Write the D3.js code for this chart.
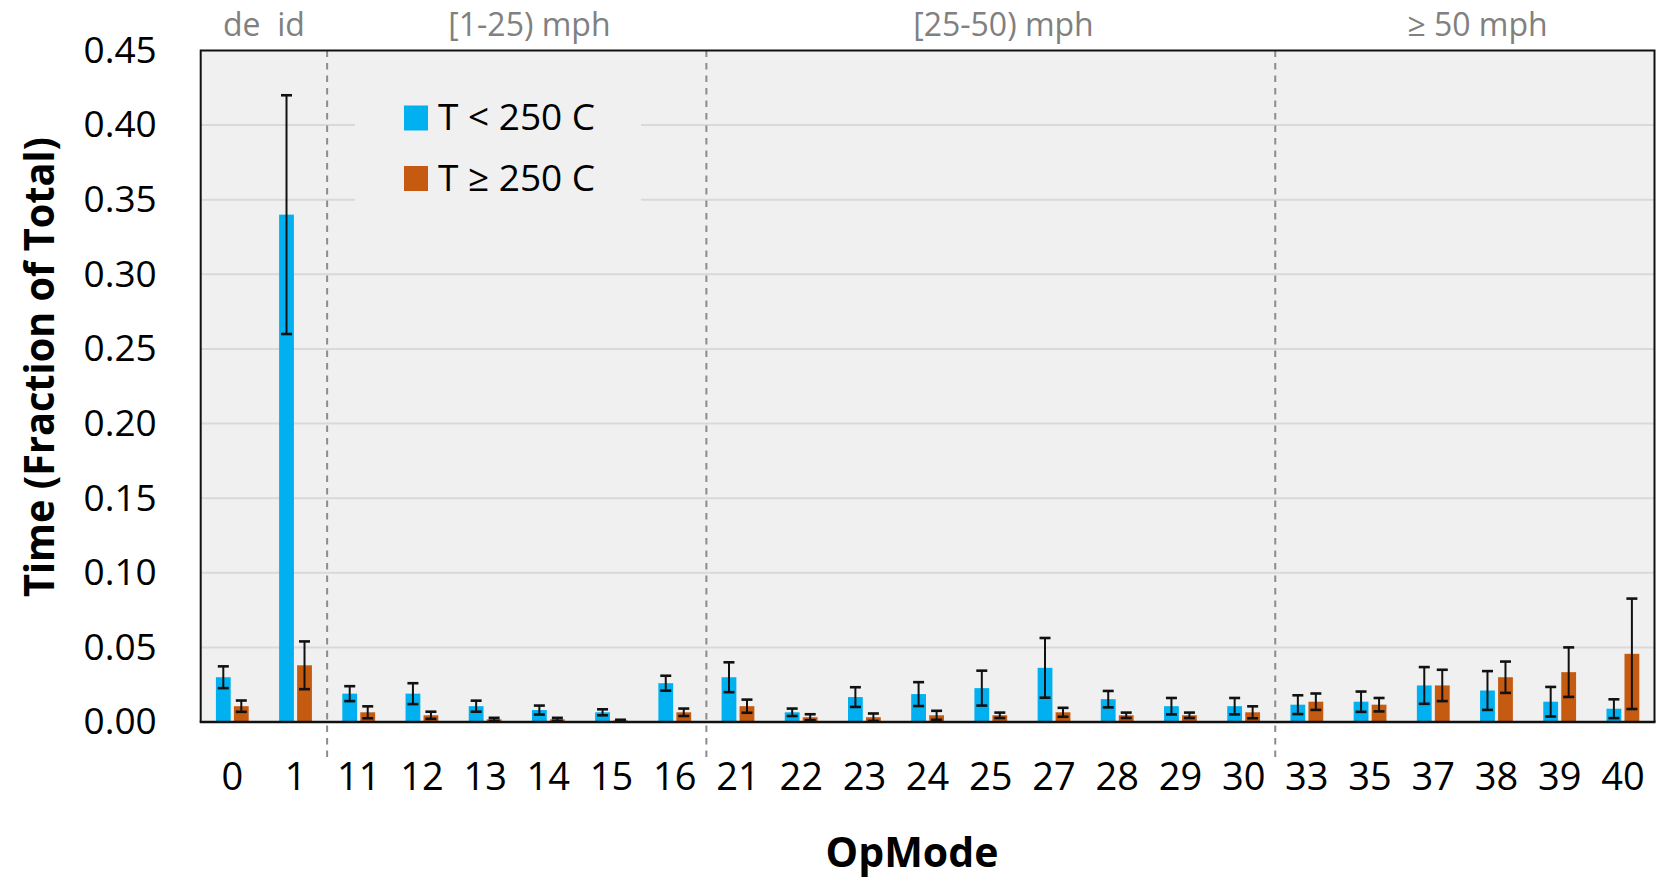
<!DOCTYPE html>
<html>
<head>
<meta charset="utf-8">
<script src="https://cdn.jsdelivr.net/npm/d3@7"></script>
<style>
  html, body { margin: 0; padding: 0; background: #ffffff; }
  svg { display: block; }
  text { font-family: "Open Sans", "Noto Sans", sans-serif; }
</style>
</head>
<body>
<svg id="chart" width="1656" height="878"></svg>
<script>
// Operating modes along the x axis
const opModes = ["0","1","11","12","13","14","15","16","21","22","23","24","25","27","28","29","30","33","35","37","38","39","40"];

// Fraction of total time, exhaust temperature below 250 C
const lowTemp    = [0.030, 0.340, 0.019, 0.019, 0.0106, 0.008, 0.0065, 0.026, 0.030, 0.0065, 0.0167, 0.0187, 0.0227, 0.0363, 0.0153, 0.0106, 0.0106, 0.0116, 0.0136, 0.0245, 0.0211, 0.0136, 0.0089];
const lowTempErr = [0.0073, 0.080, 0.005, 0.007, 0.0037, 0.003, 0.002, 0.005, 0.010, 0.0025, 0.0066, 0.008, 0.0117, 0.020, 0.0055, 0.0055, 0.0055, 0.0063, 0.0068, 0.0123, 0.013, 0.0099, 0.0063];

// Fraction of total time, exhaust temperature at or above 250 C
const highTemp    = [0.0106, 0.038, 0.0065, 0.0045, 0.0018, 0.0018, 0.001, 0.0065, 0.0106, 0.0032, 0.0032, 0.0045, 0.0045, 0.0065, 0.0045, 0.0045, 0.0065, 0.0136, 0.0116, 0.0245, 0.030, 0.0334, 0.0457];
const highTempErr = [0.0038, 0.016, 0.004, 0.0024, 0.001, 0.001, 0.0005, 0.0025, 0.0044, 0.002, 0.0025, 0.003, 0.0018, 0.003, 0.0018, 0.0018, 0.004, 0.0055, 0.0045, 0.0105, 0.0105, 0.0166, 0.037];

// Speed bins: first and last OpMode of each bin
const binLabels = ["de  id", "[1-25) mph", "[25-50) mph", "\u2265 50 mph"];
const binStart  = ["0", "11", "21", "33"];
const binEnd    = ["1", "16", "30", "40"];

const yTicks = [0, 0.05, 0.10, 0.15, 0.20, 0.25, 0.30, 0.35, 0.40, 0.45];

const seriesNames  = ["T < 250 C", "T \u2265 250 C"];
const seriesColors = ["#00b0f0", "#c55a11"];

const svg = d3.select("#chart");
const plot = { left: 200.7, right: 1654.5, top: 50.5, bottom: 722 };

const x = d3.scaleBand().domain(opModes).range([plot.left, plot.right]).padding(0);
const y = d3.scaleLinear().domain([0, 0.45]).range([plot.bottom, plot.top]);

// Plot background
svg.append("rect")
  .attr("x", plot.left).attr("y", plot.top)
  .attr("width", plot.right - plot.left).attr("height", plot.bottom - plot.top)
  .attr("fill", "#f0f0f0");

// Horizontal gridlines
svg.append("g").selectAll("line")
  .data(yTicks.filter(t => t > 0 && t < 0.45))
  .join("line")
  .attr("x1", plot.left).attr("x2", plot.right)
  .attr("y1", d => y(d)).attr("y2", d => y(d))
  .attr("stroke", "#d9d9d9").attr("stroke-width", 2);

// Legend backdrop hides the gridlines behind it
svg.append("rect")
  .attr("x", 355).attr("y", 88).attr("width", 286).attr("height", 128)
  .attr("fill", "#f0f0f0");

// Dashed separators between speed bins
const sepKeys = binStart.slice(1);
svg.append("g").selectAll("line")
  .data(sepKeys)
  .join("line")
  .attr("x1", d => x(d)).attr("x2", d => x(d))
  .attr("y1", plot.top).attr("y2", 762)
  .attr("stroke", "#8c8c8c").attr("stroke-width", 2)
  .attr("stroke-dasharray", "6.5,6");

// Bars with error bars
const barW = 14.8, gap = 3.2;
const series = [
  { vals: lowTemp,  errs: lowTempErr,  color: seriesColors[0], off: -gap / 2 - barW },
  { vals: highTemp, errs: highTempErr, color: seriesColors[1], off: gap / 2 }
];
const rows = [];
series.forEach(s => {
  opModes.forEach((m, i) => rows.push({ m, v: s.vals[i], e: s.errs[i], color: s.color, off: s.off }));
});
const cx = d => x(d.m) + x.bandwidth() / 2 + d.off;

svg.append("g").selectAll("rect")
  .data(rows)
  .join("rect")
  .attr("x", d => cx(d))
  .attr("y", d => y(d.v))
  .attr("width", barW)
  .attr("height", d => y(0) - y(d.v))
  .attr("fill", d => d.color);

const eb = svg.append("g").attr("stroke", "#111").attr("fill", "none");
const capHalf = 5.5;
rows.forEach(d => {
  const c = cx(d) + barW / 2;
  const top = y(d.v + d.e), bot = y(Math.max(0, d.v - d.e));
  eb.append("line").attr("x1", c).attr("x2", c).attr("y1", top).attr("y2", bot).attr("stroke-width", 2);
  eb.append("line").attr("x1", c - capHalf).attr("x2", c + capHalf).attr("y1", top).attr("y2", top).attr("stroke-width", 2.6);
  eb.append("line").attr("x1", c - capHalf).attr("x2", c + capHalf).attr("y1", bot).attr("y2", bot).attr("stroke-width", 2.6);
});

// Plot frame (left, top, right) and x axis baseline
svg.append("path")
  .attr("d", `M${plot.left},${plot.bottom}V${plot.top}H${plot.right}V${plot.bottom}`)
  .attr("fill", "none").attr("stroke", "#111").attr("stroke-width", 2);
svg.append("line")
  .attr("x1", plot.left - 1).attr("x2", plot.right + 1)
  .attr("y1", plot.bottom).attr("y2", plot.bottom)
  .attr("stroke", "#111").attr("stroke-width", 2.6);

// Y axis
const yAxis = svg.append("g")
  .attr("transform", `translate(${plot.left},0)`)
  .call(d3.axisLeft(y).tickValues(yTicks).tickFormat(d3.format(".2f")).tickSize(0).tickPadding(44));
yAxis.select(".domain").remove();
yAxis.selectAll("text").attr("font-size", 37).attr("fill", "#000")
  .attr("font-family", "'Open Sans', sans-serif");

// X axis
const xAxis = svg.append("g")
  .attr("transform", `translate(0,${plot.bottom})`)
  .call(d3.axisBottom(x).tickSize(0).tickPadding(41));
xAxis.select(".domain").remove();
xAxis.selectAll("text").attr("font-size", 38).attr("fill", "#000")
  .attr("font-family", "'Open Sans', sans-serif");

// Speed bin labels above the plot
svg.append("g").selectAll("text")
  .data(binLabels)
  .join("text")
  .attr("x", (d, i) => {
    const c = (x(binStart[i]) + x(binEnd[i]) + x.bandwidth()) / 2;
    return i === 0 ? c : c + x.bandwidth() * 0.2;
  })
  .attr("y", 36)
  .attr("text-anchor", "middle")
  .attr("font-size", 32)
  .attr("fill", "#808080")
  .style("white-space", "pre")
  .text(d => d);

// Legend
const leg = svg.append("g");
seriesNames.forEach((name, i) => {
  const baseY = 130 + i * 60.5;
  leg.append("rect").attr("x", 404).attr("y", baseY - 24.5).attr("width", 24).attr("height", 25).attr("fill", seriesColors[i]);
  leg.append("text").attr("x", 438).attr("y", baseY).attr("font-size", 37).attr("fill", "#000")
    .style("white-space", "pre").text(name);
});

// Axis titles
svg.append("text")
  .attr("transform", `translate(54,367) rotate(-90)`)
  .attr("text-anchor", "middle")
  .attr("font-size", 41).attr("font-weight", 700).attr("fill", "#000")
  .attr("textLength", 460).attr("lengthAdjust", "spacingAndGlyphs")
  .text("Time (Fraction of Total)");

svg.append("text")
  .attr("x", 912).attr("y", 867)
  .attr("text-anchor", "middle")
  .attr("font-size", 41).attr("font-weight", 700).attr("fill", "#000")
  .text("OpMode");
</script>
</body>
</html>
